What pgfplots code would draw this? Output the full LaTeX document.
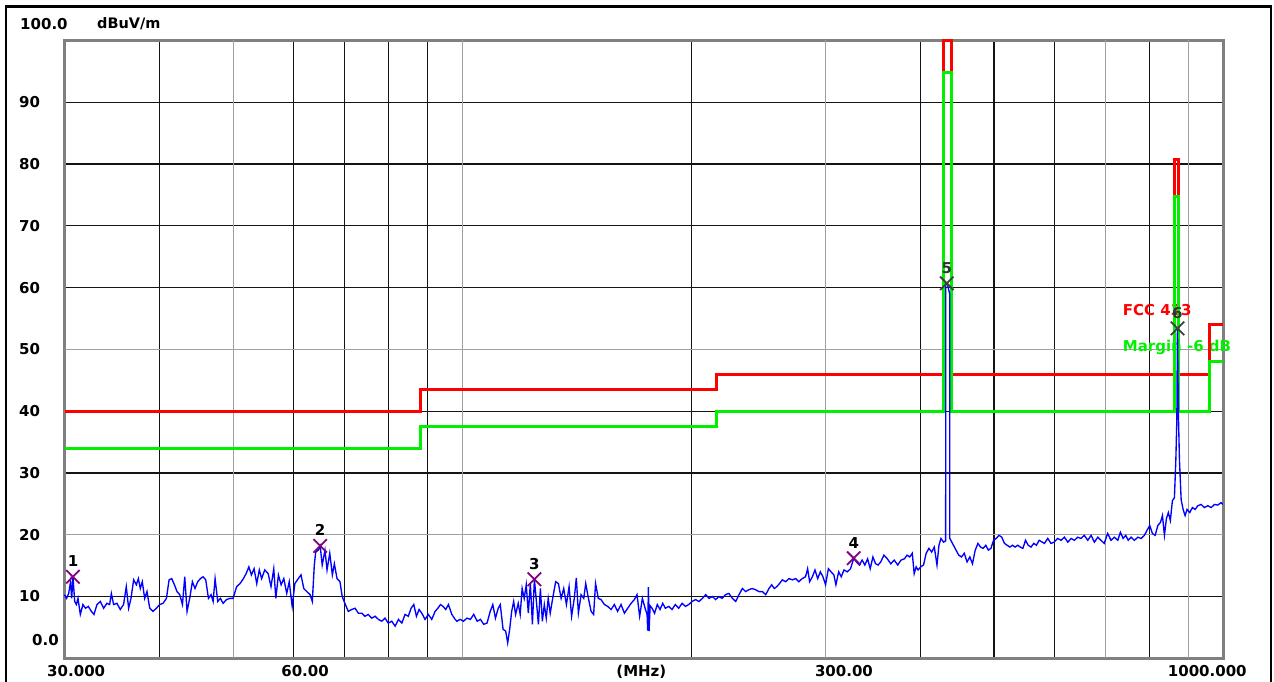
\documentclass[border=0pt]{standalone}
\usepackage{fontspec}
\setmainfont{DejaVu Sans}
\usepackage{pgfplots}
\usepackage{pgfplotstable}
\pgfplotsset{compat=1.18}

\definecolor{trace}{RGB}{0,0,255}
\definecolor{lim}{RGB}{255,0,0}
\definecolor{marg}{RGB}{0,240,0}
\definecolor{mk}{RGB}{128,0,128}
\definecolor{bord}{RGB}{128,128,128}
\definecolor{gridg}{RGB}{160,160,160}
\newcommand\lf{\bfseries\fontsize{15}{18}\selectfont}

% measured trace, MHz / dBuV/m
\pgfplotstableread{
f dB
30.00 10.3
30.19 9.7
30.38 10.5
30.56 12.4
30.66 9.7
30.78 13.2
30.94 9.2
31.10 8.7
31.25 9.7
31.47 7.1
31.72 8.7
31.97 8.1
32.24 8.4
32.54 7.6
32.80 7.1
33.10 8.7
33.44 9.2
33.77 8.1
34.11 8.9
34.39 8.7
34.57 10.5
34.81 8.7
35.16 8.9
35.52 7.9
35.87 8.7
36.17 11.6
36.43 8.1
36.69 9.7
36.99 12.7
37.29 11.9
37.52 12.9
37.74 11.3
37.97 12.4
38.24 9.7
38.51 10.8
38.83 8.1
39.22 7.6
39.62 8.1
40.01 8.7
40.42 8.9
40.84 9.7
41.17 12.7
41.50 12.9
41.84 11.9
42.17 10.8
42.52 10.3
42.87 8.7
43.17 13.2
43.47 7.6
43.82 9.7
44.18 12.4
44.53 11.3
44.90 12.4
45.27 12.9
45.63 13.2
46.00 12.7
46.38 9.7
46.75 10.3
47.04 9.2
47.32 12.9
47.70 9.2
48.09 9.7
48.48 8.9
48.98 9.5
49.48 9.7
49.97 9.7
50.51 11.6
51.03 12.1
51.56 12.9
51.98 13.7
52.41 14.8
52.82 13.5
53.25 14.5
53.68 12.1
54.10 14.3
54.48 12.9
55.00 14.3
55.57 13.7
56.05 11.6
56.52 14.5
56.87 9.7
57.32 13.5
57.79 11.9
58.26 12.9
58.78 10.5
59.23 12.4
59.76 8.4
60.25 12.1
60.87 12.9
61.38 13.5
61.89 11.3
62.46 10.8
63.09 10.3
63.52 9.2
63.90 15.1
64.17 17.2
64.66 17.5
65.04 18.2
65.45 15.1
66.00 17.5
66.41 14.3
66.96 17.0
67.49 13.5
67.90 15.3
68.45 12.9
69.06 12.4
69.53 10.0
70.09 8.9
70.82 7.6
71.56 7.9
72.29 8.1
73.02 7.3
73.77 7.3
74.49 6.8
75.23 7.1
76.03 6.5
76.81 6.8
77.58 6.3
78.38 6.0
79.15 6.5
79.93 5.7
80.78 6.0
81.60 5.2
82.43 6.3
83.28 5.7
84.10 7.1
84.93 6.8
85.64 8.1
86.35 8.7
87.04 6.8
87.75 7.9
88.47 7.3
89.34 6.3
90.22 7.1
91.18 6.3
92.11 7.6
92.87 8.1
93.62 8.7
94.35 8.4
95.12 7.9
95.89 8.7
96.89 7.1
97.87 6.3
98.37 6.0
99.35 6.3
100.35 6.0
101.43 6.5
102.48 6.3
103.52 7.1
104.60 6.0
105.65 6.3
106.70 5.5
107.78 5.7
108.83 7.6
109.68 8.7
110.56 6.5
111.50 8.1
112.19 8.7
113.13 4.7
114.04 4.4
114.73 2.5
115.43 4.7
116.12 7.6
116.82 9.2
117.51 7.1
118.45 8.9
119.16 7.1
119.86 11.3
120.61 9.7
121.36 11.9
122.12 7.3
122.88 12.1
123.64 5.5
124.39 12.8
125.15 9.2
125.91 5.5
126.67 11.3
127.42 6.0
128.18 8.7
128.94 6.5
129.70 9.7
130.49 7.3
131.60 10.0
132.66 12.4
133.77 12.1
134.88 9.7
135.94 11.3
137.05 8.7
138.16 11.6
139.22 6.8
140.35 9.7
141.23 13.0
142.11 7.3
143.29 10.3
144.43 9.7
145.31 12.1
146.49 9.7
147.68 7.6
148.82 7.1
149.69 12.1
150.94 9.7
152.21 9.5
153.76 8.7
155.31 8.4
156.90 7.9
158.45 8.7
160.00 7.6
161.70 8.7
163.35 7.3
165.00 8.1
166.70 8.9
168.35 9.5
169.70 10.3
171.06 6.8
172.49 9.7
173.92 8.1
174.97 7.1
175.29 4.5
175.66 11.5
176.03 4.4
176.56 8.5
177.62 8.1
178.99 7.3
180.45 8.7
181.97 7.9
183.43 8.9
184.94 8.1
186.80 8.4
188.71 7.9
190.59 8.7
192.54 8.1
194.56 8.9
196.51 8.4
198.46 8.7
200.51 9.2
202.60 9.5
204.70 9.2
206.86 9.7
208.95 10.3
211.05 9.7
213.21 10.0
215.30 9.5
217.40 10.0
219.56 9.7
221.81 10.3
224.11 10.5
226.48 9.7
228.78 9.2
231.08 10.3
233.45 11.3
235.75 10.8
238.05 11.1
240.45 11.3
242.95 11.1
245.45 10.8
248.03 10.8
250.53 10.3
253.03 11.3
255.08 11.9
257.12 11.3
259.09 11.6
261.22 12.1
263.43 12.7
266.12 12.4
268.82 12.9
271.59 12.7
274.29 12.9
276.98 12.4
279.76 12.9
282.64 13.2
284.41 14.5
286.17 12.4
288.55 13.2
290.84 14.3
293.22 12.9
295.60 14.0
297.89 13.2
300.29 11.9
302.87 14.5
305.35 14.0
307.93 13.5
309.84 11.9
312.42 14.0
314.91 13.2
317.49 14.3
320.74 14.0
323.89 14.5
327.04 16.2
329.62 15.6
332.71 15.1
335.42 15.9
338.23 15.1
341.04 16.1
343.75 14.5
346.56 16.4
349.37 15.3
352.08 15.1
354.90 15.6
358.33 16.7
362.07 16.1
365.88 15.3
369.68 15.9
373.60 15.1
377.41 15.9
381.21 16.1
384.32 16.7
387.43 16.4
390.43 17.0
392.74 13.7
395.04 14.8
397.35 14.3
400.51 14.8
403.92 15.1
407.20 17.0
410.62 17.8
414.03 17.2
417.32 18.0
420.73 15.1
423.26 18.3
425.79 19.4
429.20 18.8
431.90 19.0
432.10 60.7
434.00 60.7
437.20 59.0
437.40 19.4
442.27 18.3
445.73 17.5
449.33 16.7
453.17 16.4
456.92 17.0
460.81 15.6
464.70 16.4
468.44 15.3
472.33 17.5
476.22 18.6
479.97 18.0
483.86 17.8
487.75 18.3
491.50 17.5
495.39 17.8
499.28 19.1
503.33 19.4
507.62 19.9
511.90 19.6
516.03 18.6
520.32 18.3
524.60 18.0
528.73 18.3
533.01 18.0
537.30 18.3
541.42 18.0
545.71 17.8
550.00 19.1
554.53 18.3
559.23 18.0
563.94 18.6
568.47 18.3
573.17 19.1
582.41 18.6
588.33 19.4
594.08 18.6
599.83 18.8
606.25 19.4
612.50 19.1
618.75 19.6
625.19 18.8
631.44 19.4
637.69 19.1
644.13 19.6
650.41 19.4
657.14 19.9
664.08 19.1
670.82 19.9
677.55 18.8
684.49 19.6
691.22 19.1
697.96 18.6
705.29 20.2
712.56 19.1
719.83 19.6
727.32 19.1
733.05 20.4
739.00 19.4
744.95 19.9
750.70 19.1
757.04 19.6
764.79 19.1
772.77 19.6
780.52 19.4
788.26 19.9
794.60 20.7
801.00 21.5
807.50 20.2
814.25 19.9
821.00 21.5
827.50 22.0
832.50 23.1
837.50 19.9
842.50 22.6
847.50 23.6
852.65 22.3
857.94 25.5
863.23 26.0
866.94 32.1
869.58 38.8
871.17 53.4
873.82 39.0
876.46 32.1
880.96 25.7
886.25 24.1
891.54 23.1
896.83 24.1
904.21 23.6
911.52 24.4
919.10 24.1
926.69 24.7
935.96 24.9
945.22 24.4
955.00 24.7
964.71 24.4
974.41 24.9
984.41 24.8
994.12 25.2
999.10 24.9
}\scan

% FCC limit and margin line
\pgfplotstableread{
f dB
30 40
88 40
88 43.5
216 43.5
216 46
429 46
429 100
439 100
439 46
863 46
863 80.8
873 80.8
873 46
960 46
960 54
1000 54
}\fcc

\pgfplotstableread{
f dB
30 34
88 34
88 37.5
216 37.5
216 40
429 40
429 94.8
439 94.8
439 40
863 40
863 74.8
873 74.8
873 40
960 40
960 48
1000 48
}\margin

\pgfplotstableread{
f dB lab
30.78 13.2 1
65.04 18.2 2
124.39 12.8 3
327.04 16.2 4
}\mksa

\pgfplotstableread{
f dB lab
433.4 60.7 5
871.17 53.4 6
}\mksb

\begin{document}
\begin{tikzpicture}[x=1pt,y=1pt]
\useasboundingbox (0,0) rectangle (1274,682);
\draw[line width=2.5pt] (6,-5) -- (6,675.5) -- (1271,675.5) -- (1271,-5);
\begin{axis}[
  at={(64.5pt,23.7pt)}, anchor=south west,
  scale only axis, width=1158.5pt, height=617.8pt,
  xmode=log, xmin=30, xmax=1000, ymin=0, ymax=100,
  clip=false,
  axis line style={draw=bord, line width=3pt},
  xtick={40,60,70,80,90,200,400,500,600,800},
  extra x ticks={50,100,300,700,900},
  xticklabels={}, extra x tick labels={},
  ytick={10,30,40,60,70,80,90},
  extra y ticks={20,50},
  extra x tick style={major grid style={draw=gridg, line width=1.3pt}},
  extra y tick style={major grid style={draw=gridg, line width=1.3pt}},
  grid=major,
  major grid style={draw=black!92, line width=1.3pt},
  tick style={draw=none},
  /pgf/number format/assume math mode=true,
  yticklabel style={anchor=west, inner sep=0pt, xshift=-45.5pt, font=\lf},
]

\node[anchor=west, inner sep=0pt, text=lim, font=\lf] at (axis cs:738,56.4) {FCC 433};
\node[anchor=west, inner sep=0pt, text=marg, font=\lf] at (axis cs:738,50.4) {Margin -6 dB};

\node[anchor=base west, inner sep=0pt, font=\lf] at (axis cs:30,101.7) [xshift=-44.5pt] {100.0};
\node[anchor=base west, inner sep=0pt, font=\bfseries\fontsize{14.5}{16}\selectfont] at (axis cs:30,101.9) [xshift=32.5pt] {dBuV/m};
\node[anchor=base west, inner sep=0pt, font=\lf] at (axis cs:30,2.15) [xshift=-32.5pt] {0.0};

\node[anchor=base, inner sep=0pt, font=\lf] at (axis cs:31.08,0) [yshift=-18.4pt] {30.000};
\node[anchor=base, inner sep=0pt, font=\lf] at (axis cs:62.14,0) [yshift=-18.4pt] {60.00};
\node[anchor=base, inner sep=0pt, font=\lf] at (axis cs:171.96,0) [yshift=-18.4pt] {(MHz)};
\node[anchor=base, inner sep=0pt, font=\lf] at (axis cs:317.5,0) [yshift=-18.4pt] {300.00};
\node[anchor=base, inner sep=0pt, font=\lf] at (axis cs:953.4,0) [yshift=-18.4pt] {1000.000};

\addplot[lim, line width=3pt, mark=none] table[x=f,y=dB] {\fcc};
\addplot[marg, line width=3pt, mark=none] table[x=f,y=dB] {\margin};
\addplot[trace, line width=1.35pt, mark=none] table[x=f,y=dB] {\scan};

\addplot[only marks, mark=x, mark size=9.5pt, mark options={draw=mk, line width=1.8pt},
  nodes near coords, point meta=explicit symbolic,
  nodes near coords style={anchor=south, inner sep=0pt, yshift=9pt, font=\lf, text=black}]
  table[x=f,y=dB,meta=lab] {\mksa};
\addplot[only marks, mark=x, mark size=9.5pt, mark options={draw=black!75, line width=1.8pt},
  nodes near coords, point meta=explicit symbolic,
  nodes near coords style={anchor=south, inner sep=0pt, yshift=9pt, font=\lf, text=black!80}]
  table[x=f,y=dB,meta=lab] {\mksb};
\end{axis}
\end{tikzpicture}
\end{document}
